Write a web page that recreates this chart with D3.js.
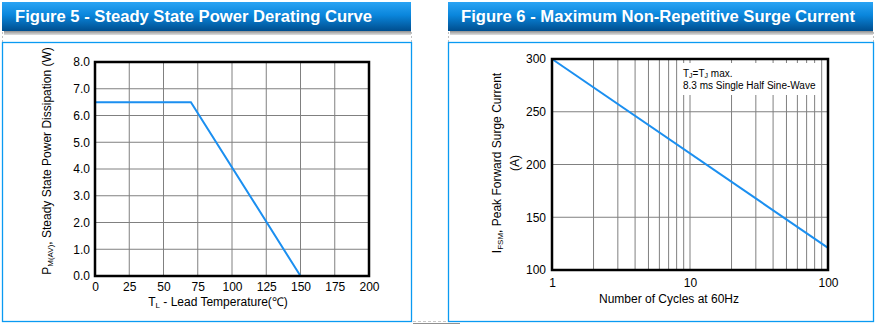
<!DOCTYPE html>
<html><head><meta charset="utf-8">
<script src="https://cdn.jsdelivr.net/npm/d3@7"></script>
<style>body{margin:0;background:#fff}svg{display:block}text{font-family:"Liberation Sans",Arial,sans-serif}</style>
</head><body><svg id="c" width="876" height="324"></svg>
<script>
// ---- Data ----
const titles = ["Figure 5 - Steady State Power Derating Curve", "Figure 6 - Maximum Non-Repetitive Surge Current"];
// Figure 5: lead temperature (°C) vs power (W)
const deratingTemp = [0, 70, 150];
const deratingPower = [6.5, 6.5, 0];
const fig5XTicks = [0, 25, 50, 75, 100, 125, 150, 175, 200];
const fig5YTicks = [0, 1, 2, 3, 4, 5, 6, 7, 8];
// Figure 6: number of cycles vs peak surge current (A)
const surgeCycles = [1, 100];
const surgeCurrent = [300, 121];
const fig6XTicks = [1, 10, 100];
const fig6XGrid = [1,2,3,4,5,6,7,8,9,10,20,30,40,50,60,70,80,90,100];
const fig6YTicks = [100, 150, 200, 250, 300];
const noteLines = ["8.3 ms Single Half Sine-Wave"];

const svg = d3.select("#c");
const defs = svg.append("defs");
const g1 = defs.append("linearGradient").attr("id","hdr").attr("x1",0).attr("y1",0).attr("x2",0).attr("y2",1);
g1.append("stop").attr("offset","0%").attr("stop-color","#2aa4f4");
g1.append("stop").attr("offset","45%").attr("stop-color","#0a86dc");
g1.append("stop").attr("offset","100%").attr("stop-color","#004e8e");
const g2 = defs.append("linearGradient").attr("id","shd").attr("x1",0).attr("y1",0).attr("x2",0).attr("y2",1);
g2.append("stop").attr("offset","0%").attr("stop-color","#909090");
g2.append("stop").attr("offset","100%").attr("stop-color","#e0e0e0");

const BLUE = "#1b8ff0", FRAME = "#0a9af2", GRID = "#808080";

function panel(x0, x1, title, tw) {
  svg.append("rect").attr("x", x0+2).attr("y", 31).attr("width", x1-x0-2).attr("height", 4).attr("fill","url(#shd)");
  svg.append("rect").attr("x", x0).attr("y", 2).attr("width", x1-x0).attr("height", 29).attr("fill","url(#hdr)");
  svg.append("text").attr("x", x0+13).attr("y", 22).attr("fill","#fff").attr("font-size",16).attr("font-weight","bold")
    .attr("textLength", tw).attr("lengthAdjust","spacingAndGlyphs").text(title);
  [x0, x1].forEach(x => svg.append("line").attr("x1", x+0.5).attr("x2", x+0.5).attr("y1", 32).attr("y2", 42)
    .attr("stroke","#c0c0c0").attr("stroke-dasharray","2,2"));
  svg.append("rect").attr("x", x0+0.5).attr("y", 42.5).attr("width", x1-x0).attr("height", 279)
    .attr("fill","none").attr("stroke", FRAME).attr("stroke-width",1.3);
}
panel(2, 411, titles[0], 357);
panel(448, 873, titles[1], 394);
svg.append("line").attr("x1",413).attr("x2",448).attr("y1",321.5).attr("y2",321.5).attr("stroke","#c8c8c8").attr("stroke-dasharray","3,2");
svg.append("line").attr("x1",413).attr("x2",460).attr("y1",323.5).attr("y2",323.5).attr("stroke","#909090");

// ---- Figure 5 ----
{
  const L=95, R=369, T=62, B=276;
  const x = d3.scaleLinear().domain([0,200]).range([L,R]);
  const y = d3.scaleLinear().domain([0,8]).range([B,T]);
  const g = svg.append("g");
  g.selectAll(".vg").data(fig5XTicks).join("line").attr("x1",d=>x(d)).attr("x2",d=>x(d)).attr("y1",T).attr("y2",B).attr("stroke",GRID);
  g.selectAll(".hg").data(fig5YTicks).join("line").attr("x1",L).attr("x2",R).attr("y1",d=>y(d)).attr("y2",d=>y(d)).attr("stroke",GRID);
  const ax = g.append("g").attr("transform",`translate(0,${B})`).call(d3.axisBottom(x).tickValues(fig5XTicks).tickSize(0).tickPadding(6));
  const ay = g.append("g").attr("transform",`translate(${L},0)`).call(d3.axisLeft(y).tickValues(fig5YTicks).tickFormat(d3.format(".1f")).tickSize(0).tickPadding(5));
  [ax, ay].forEach(a => { a.select(".domain").remove(); a.selectAll("text").attr("font-size",12).attr("fill","#000").attr("font-family","Liberation Sans, Arial, sans-serif"); });
  ay.selectAll("text").attr("dy","0.32em");
  g.append("path").datum(deratingTemp.map((t,i)=>[t,deratingPower[i]]))
    .attr("d", d3.line().x(d=>x(d[0])).y(d=>y(d[1]))).attr("fill","none").attr("stroke",BLUE).attr("stroke-width",2);
  g.append("rect").attr("x",L).attr("y",T).attr("width",R-L).attr("height",B-T).attr("fill","none").attr("stroke","#000").attr("stroke-width",2.5);
  const xt = g.append("text").attr("x",218).attr("y",306).attr("text-anchor","middle").attr("font-size",12);
  xt.append("tspan").text("T");
  xt.append("tspan").attr("font-size",8).attr("dy",2).text("L");
  xt.append("tspan").attr("dy",-2).text(" - Lead Temperature(℃)");
  const yt = g.append("text").attr("transform","translate(51,161) rotate(-90)").attr("text-anchor","middle").attr("font-size",12);
  yt.append("tspan").text("P");
  yt.append("tspan").attr("font-size",8).attr("dy",2).text("M(AV)");
  yt.append("tspan").attr("dy",-2).text(", Steady State Power Dissipation (W)");
}

// ---- Figure 6 ----
{
  const L=552, R=828, T=59, B=270;
  const x = d3.scaleLog().domain([1,100]).range([L,R]);
  const y = d3.scaleLinear().domain([100,300]).range([B,T]);
  const g = svg.append("g");
  g.selectAll(".vg").data(fig6XGrid).join("line").attr("x1",d=>x(d)).attr("x2",d=>x(d)).attr("y1",T).attr("y2",B).attr("stroke",GRID);
  g.selectAll(".hg").data(fig6YTicks).join("line").attr("x1",L).attr("x2",R).attr("y1",d=>y(d)).attr("y2",d=>y(d)).attr("stroke",GRID);
  g.append("rect").attr("x",679).attr("y",63).attr("width",142).attr("height",32).attr("fill","#fff");
  const ax = g.append("g").attr("transform",`translate(0,${B})`).call(d3.axisBottom(x).tickValues(fig6XTicks).tickFormat(d3.format("d")).tickSize(0).tickPadding(8));
  const ay = g.append("g").attr("transform",`translate(${L},0)`).call(d3.axisLeft(y).tickValues(fig6YTicks).tickSize(0).tickPadding(6));
  [ax, ay].forEach(a => { a.select(".domain").remove(); a.selectAll("text").attr("font-size",12).attr("fill","#000").attr("font-family","Liberation Sans, Arial, sans-serif"); });
  ay.selectAll("text").attr("dy","0.32em");
  g.append("path").datum(surgeCycles.map((c,i)=>[c,surgeCurrent[i]]))
    .attr("d", d3.line().x(d=>x(d[0])).y(d=>y(d[1]))).attr("fill","none").attr("stroke",BLUE).attr("stroke-width",2);
  g.append("rect").attr("x",L).attr("y",T).attr("width",R-L).attr("height",B-T).attr("fill","none").attr("stroke","#000").attr("stroke-width",2.5);
  const n1 = g.append("text").attr("x",683).attr("y",77).attr("font-size",10);
  n1.append("tspan").text("T"); n1.append("tspan").attr("font-size",7).attr("dy",1).text("J");
  n1.append("tspan").attr("dy",-1).text("=T"); n1.append("tspan").attr("font-size",7).attr("dy",1).text("J");
  n1.append("tspan").attr("dy",-1).text(" max.");
  g.selectAll(".note").data(noteLines).join("text").attr("x",683).attr("y",(d,i)=>89+i*12).attr("font-size",10).text(d=>d);
  g.append("text").attr("x",(L+R)/2-21).attr("y",303).attr("text-anchor","middle").attr("font-size",12).text("Number of Cycles at 60Hz");
  const yt = g.append("text").attr("transform","translate(501,163) rotate(-90)").attr("text-anchor","middle").attr("font-size",12);
  yt.append("tspan").text("I");
  yt.append("tspan").attr("font-size",8).attr("dy",2).text("FSM");
  yt.append("tspan").attr("dy",-2).text(", Peak Forward Surge Current");
  g.append("text").attr("transform","translate(519,163) rotate(-90)").attr("text-anchor","middle").attr("font-size",12).text("(A)");
}
</script></body></html>
